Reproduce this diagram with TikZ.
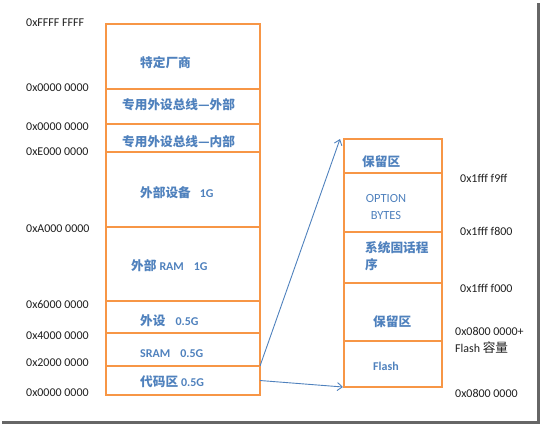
\documentclass[tikz,border=0pt]{standalone}
\usepackage{fontspec}
\setmainfont{Carlito}
\newfontfamily\cjk{Noto Sans CJK SC}
\usetikzlibrary{arrows.meta}
\definecolor{orng}{HTML}{F79646}
\definecolor{blu}{HTML}{4F81BD}
\definecolor{addrc}{HTML}{1F1F1F}
\newcommand\zh[1]{{\cjk\fontsize{12.7}{14}\selectfont #1}}
\begin{document}
\begin{tikzpicture}[x=1bp,y=-1bp,
  lseg/.style={draw=orng,line width=1.1bp,minimum width=154bp,inner sep=0,outer sep=0,rectangle},
  rseg/.style={draw=orng,line width=1.1bp,minimum width=98bp,inner sep=0,outer sep=0,rectangle},
  outer/.style={draw=orng,line width=2.6bp},
  lbl/.style={text=blu,font=\fontsize{12}{14}\selectfont\bfseries,anchor=west,inner sep=0},
  lblthin/.style={text=blu,font=\fontsize{12.5}{18}\selectfont,inner sep=0},
  addr/.style={text=addrc,font=\fontsize{12}{14}\selectfont,anchor=west,inner sep=0},
  link/.style={draw=blu,line width=0.9bp,-{Straight Barb[length=5bp,width=8bp]}}]
\useasboundingbox (0,0) rectangle (541,426);
% frame shadow
\fill[black!60] (537,3) rectangle (540,424);
\fill[black!60] (2,421) rectangle (540,424);
% left box segments
\node[lseg,minimum height=65bp] (vendor) at (183,56.5) {};
\node[lseg,minimum height=35bp] (extout) at (183,106.5) {};
\node[lseg,minimum height=28bp] (extin) at (183,138) {};
\node[lseg,minimum height=75bp] (dev) at (183,189.5) {};
\node[lseg,minimum height=74bp] (ram) at (183,264) {};
\node[lseg,minimum height=32bp] (peri) at (183,317) {};
\node[lseg,minimum height=33bp] (sram) at (183,349.5) {};
\node[lseg,minimum height=29bp] (code) at (183,380.5) {};
\draw[outer] (vendor.north west) rectangle (code.south east);
% right box segments
\node[rseg,minimum height=34bp] (res1) at (393,156) {};
\node[rseg,minimum height=59bp] (opt) at (393,202.5) {};
\node[rseg,minimum height=51bp] (sys) at (393,257.5) {};
\node[rseg,minimum height=58bp] (res2) at (393,312) {};
\node[rseg,minimum height=46bp] (flash) at (393,364) {};
\draw[outer] (res1.north west) rectangle (flash.south east);
% left labels
\node[lbl] (t1) at (140,63) {\zh{特定厂商}};
\node[lbl] (t2) at (122,105) {\zh{专用外设总线—外部}};
\node[lbl] (t3) at (122,142) {\zh{专用外设总线—内部}};
\node[lbl] (t4) at (140,193) {\zh{外部设备}\hspace{9bp}1G};
\node[lbl] (t5) at (131,266) {\zh{外部}\hspace{3bp}RAM\hspace{10bp}1G};
\node[lbl] (t6) at (140,321) {\zh{外设}\hspace{10bp}0.5G};
\node[lbl] (t7) at (140,354) {SRAM\hspace{10bp}0.5G};
\node[lbl] (t8) at (140,382) {\zh{代码区}\hspace{3bp}0.5G};
% right labels
\node[lbl] (r1) at (362,162) {\zh{保留区}};
\node[lblthin,align=center] (r2) at (386,207) {OPTION\\BYTES};
\node[lbl,align=left,font=\fontsize{12}{17}\selectfont\bfseries] (r3) at (365,256.5) {\zh{系统固话程}\\\zh{序}};
\node[lbl] (r4) at (373,322) {\zh{保留区}};
\node[lbl] (r5) at (373,366) {Flash};
% left addresses
\node[addr] (a1) at (26,23) {0xFFFF FFFF};
\node[addr] (a2) at (26,88) {0x0000 0000};
\node[addr] (a3) at (26,127) {0x0000 0000};
\node[addr] (a4) at (26,152) {0xE000 0000};
\node[addr] (a5) at (26,229) {0xA000 0000};
\node[addr] (a6) at (26,304) {0x6000 0000};
\node[addr] (a7) at (26,336) {0x4000 0000};
\node[addr] (a8) at (26,363) {0x2000 0000};
\node[addr] (a9) at (26,393) {0x0000 0000};
% right addresses
\node[addr] (b1) at (460,178) {0x1fff f9ff};
\node[addr] (b2) at (460,231) {0x1fff f800};
\node[addr] (b3) at (460,288) {0x1fff f000};
\node[addr] (b4) at (455,331) {0x0800 0000+};
\node[addr] (b5) at (455,348) {Flash \zh{容量}};
\node[addr] (b6) at (455,393) {0x0800 0000};
% connectors
\coordinate (tip1) at (340,139);
\coordinate (tip2) at (343,387);
\draw[link] (code.north east) -- (tip1);
\draw[link] (code.east) -- (tip2);
\end{tikzpicture}
\end{document}
